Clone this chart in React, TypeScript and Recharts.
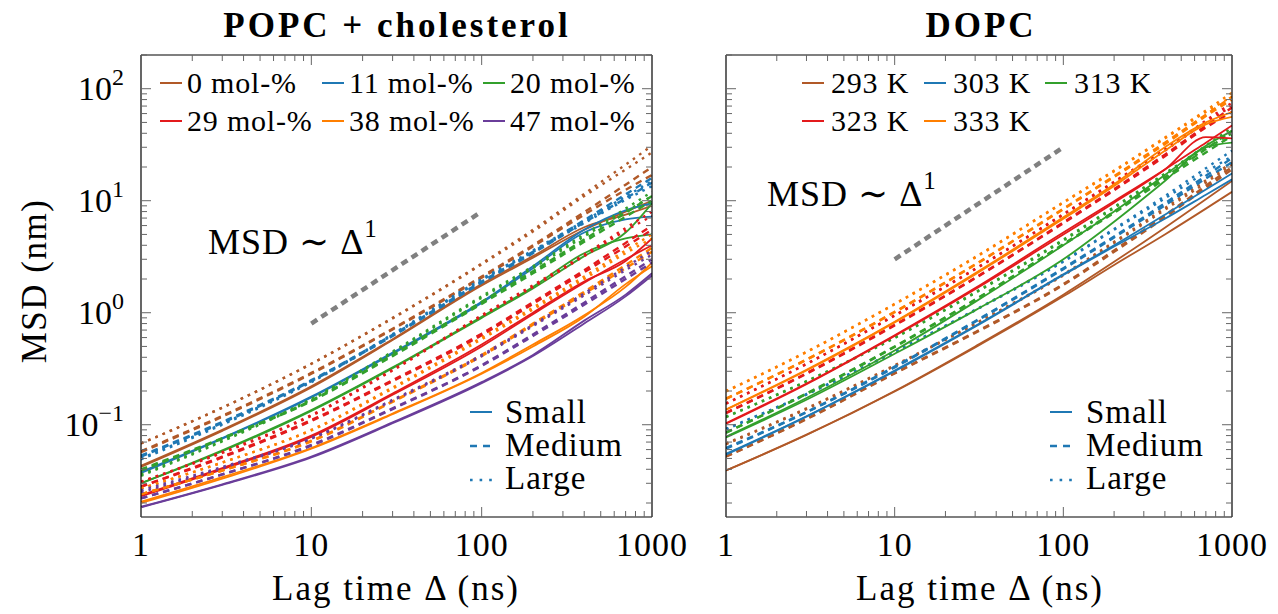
import { LineChart, Line, XAxis, YAxis } from "recharts";

const serif = '"Liberation Serif", "DejaVu Serif", "Times New Roman", Times, "Noto Serif", serif';

// lag times (ns) at which the curves were read
const lagTimes = [1, 3, 10, 30, 100, 200, 400, 700, 1000];

// POPC + cholesterol, MSD (nm), two replicas per system size
const chol0Small = [[0.043, 0.09, 0.22, 0.58, 1.8, 3.2, 5.8, 7.5, 9], [0.042, 0.088, 0.215, 0.57, 1.75, 3.1, 5.5, 8.0, 10]];
const chol0Medium = [[0.058, 0.12, 0.29, 0.72, 2.1, 4.0, 7.9, 13.9, 20], [0.057, 0.118, 0.285, 0.71, 2.05, 3.9, 7.5, 12.5, 17]];
const chol0Large = [[0.068, 0.142, 0.35, 0.9, 2.75, 5.5, 11.5, 21, 31], [0.068, 0.142, 0.35, 0.89, 2.7, 5.3, 11, 19, 27]];
const chol11Small = [[0.038, 0.076, 0.178, 0.44, 1.25, 2.6, 5.5, 8.2, 9.5], [0.037, 0.075, 0.175, 0.43, 1.22, 2.5, 5.2, 6.8, 7.2]];
const chol11Medium = [[0.053, 0.106, 0.25, 0.635, 1.9, 3.5, 6.7, 11.4, 16], [0.052, 0.104, 0.245, 0.62, 1.85, 3.4, 6.4, 10.5, 14.5]];
const chol11Large = [[0.05, 0.102, 0.245, 0.644, 2.0, 3.6, 6.6, 10.9, 15], [0.049, 0.1, 0.24, 0.63, 1.95, 3.5, 6.3, 10.2, 13.5]];
const chol20Small = [[0.03, 0.059, 0.135, 0.325, 0.92, 1.7, 3.4, 4.6, 5.0], [0.03, 0.058, 0.133, 0.32, 0.9, 1.65, 3.2, 5.2, 9.5]];
const chol20Medium = [[0.04, 0.076, 0.165, 0.42, 1.25, 2.35, 4.5, 7.8, 11], [0.039, 0.075, 0.162, 0.41, 1.2, 2.25, 4.3, 7.2, 10]];
const chol20Large = [[0.036, 0.072, 0.17, 0.45, 1.4, 2.6, 5.0, 8.5, 12], [0.035, 0.071, 0.167, 0.44, 1.36, 2.5, 4.8, 8.0, 11]];
const chol29Small = [[0.0235, 0.041, 0.08, 0.19, 0.52, 1.0, 1.9, 2.9, 4.6], [0.023, 0.04, 0.078, 0.185, 0.5, 0.97, 1.85, 3.0, 4.0]];
const chol29Medium = [[0.028, 0.052, 0.11, 0.25, 0.65, 1.24, 2.4, 4.2, 6], [0.028, 0.051, 0.108, 0.245, 0.63, 1.2, 2.3, 3.9, 5.5]];
const chol29Large = [[0.031, 0.057, 0.122, 0.31, 0.95, 1.76, 3.3, 5.7, 8], [0.031, 0.056, 0.12, 0.305, 0.93, 1.7, 3.2, 5.4, 7.3]];
const chol38Small = [[0.0205, 0.034, 0.062, 0.126, 0.29, 0.52, 0.95, 1.7, 2.8], [0.02, 0.033, 0.061, 0.124, 0.285, 0.5, 0.92, 1.8, 2.6]];
const chol38Medium = [[0.024, 0.039, 0.072, 0.162, 0.42, 0.8, 1.54, 2.67, 3.8], [0.024, 0.039, 0.071, 0.16, 0.41, 0.78, 1.48, 2.5, 3.5]];
const chol38Large = [[0.027, 0.046, 0.09, 0.215, 0.6, 1.11, 2.1, 3.6, 5], [0.027, 0.046, 0.089, 0.21, 0.58, 1.07, 2.0, 3.4, 4.6]];
const chol47Small = [[0.0185, 0.0294, 0.052, 0.105, 0.24, 0.42, 0.85, 1.45, 2.25], [0.0183, 0.029, 0.051, 0.103, 0.235, 0.41, 0.8, 1.4, 2.15]];
const chol47Medium = [[0.022, 0.036, 0.066, 0.14, 0.34, 0.64, 1.23, 2.12, 3.0], [0.022, 0.036, 0.065, 0.138, 0.335, 0.62, 1.18, 2.0, 2.8]];
const chol47Large = [[0.026, 0.042, 0.076, 0.167, 0.42, 0.78, 1.49, 2.55, 3.6], [0.025, 0.041, 0.075, 0.164, 0.41, 0.76, 1.43, 2.4, 3.3]];

// DOPC at different temperatures
const dopc293Small = [[0.039, 0.0815, 0.2, 0.5, 1.45, 2.85, 5.75, 10.3, 15], [0.039, 0.081, 0.198, 0.49, 1.4, 2.67, 5.0, 8.5, 12]];
const dopc293Medium = [[0.052, 0.113, 0.29, 0.67, 1.8, 3.6, 7.4, 13.6, 20], [0.052, 0.112, 0.287, 0.66, 1.77, 3.5, 7.1, 13, 19]];
const dopc293Large = [[0.068, 0.14, 0.34, 0.8, 2.2, 4.3, 8.6, 15.2, 22], [0.067, 0.138, 0.335, 0.79, 2.15, 4.2, 8.3, 14.5, 21]];
const dopc303Small = [[0.055, 0.119, 0.305, 0.76, 2.2, 4.0, 7.5, 12.6, 17.5], [0.054, 0.118, 0.3, 0.75, 2.17, 3.9, 6.9, 11.3, 15.5]];
const dopc303Medium = [[0.062, 0.13, 0.33, 0.84, 2.5, 4.8, 9.5, 16.7, 24], [0.061, 0.129, 0.325, 0.83, 2.45, 4.7, 9.1, 15.8, 22]];
const dopc303Large = [[0.092, 0.188, 0.45, 1.06, 2.9, 5.6, 11, 19.5, 28], [0.091, 0.186, 0.445, 1.05, 2.85, 5.5, 10.5, 18, 25]];
const dopc313Small = [[0.078, 0.173, 0.46, 1.25, 4.0, 8.0, 17, 31, 42], [0.077, 0.167, 0.43, 1.05, 3.0, 6.5, 15, 30, 33]];
const dopc313Medium = [[0.085, 0.19, 0.5, 1.31, 4.1, 8.0, 16.2, 29, 42], [0.085, 0.188, 0.495, 1.3, 4.05, 7.8, 15.6, 27, 38]];
const dopc313Large = [[0.118, 0.245, 0.6, 1.52, 4.5, 8.8, 17.5, 31, 45], [0.117, 0.243, 0.595, 1.5, 4.4, 8.6, 17, 29, 40]];
const dopc323Small = [[0.103, 0.233, 0.63, 1.66, 5.2, 9.9, 19, 33, 47], [0.102, 0.23, 0.62, 1.62, 5.0, 9.6, 19, 37, 36]];
const dopc323Medium = [[0.128, 0.288, 0.78, 2.05, 6.4, 12.7, 25.8, 46.7, 68], [0.127, 0.285, 0.77, 2.03, 6.3, 12.4, 25, 45, 62]];
const dopc323Large = [[0.155, 0.35, 0.95, 2.47, 7.6, 14.8, 29, 52, 75], [0.154, 0.348, 0.94, 2.44, 7.5, 14.5, 28, 50, 70]];
const dopc333Small = [[0.137, 0.31, 0.83, 2.25, 7.1, 14, 30, 50, 62], [0.136, 0.305, 0.82, 2.2, 6.9, 13.5, 28, 48, 56]];
const dopc333Medium = [[0.171, 0.382, 1.02, 2.7, 8.5, 16.6, 33, 58.7, 85], [0.17, 0.38, 1.01, 2.68, 8.4, 16.3, 32, 57, 80]];
const dopc333Large = [[0.2, 0.448, 1.2, 3.14, 9.7, 18.6, 36.6, 64, 92], [0.198, 0.445, 1.19, 3.1, 9.6, 18.3, 36, 62, 85]];

// MSD ~ Delta^1 guide lines: [lag time, msd]
const guideChol = [[10, 0.8], [100, 8]];
const guideDopc = [[10, 3], [100, 30]];

const cholLabels = ["0 mol-%", "11 mol-%", "20 mol-%", "29 mol-%", "38 mol-%", "47 mol-%"];
const dopcLabels = ["293 K", "303 K", "313 K", "323 K", "333 K"];
const sizeLabels = ["Small", "Medium", "Large"];

const cholGroups = [
  [chol0Small, chol0Medium, chol0Large],
  [chol11Small, chol11Medium, chol11Large],
  [chol20Small, chol20Medium, chol20Large],
  [chol29Small, chol29Medium, chol29Large],
  [chol38Small, chol38Medium, chol38Large],
  [chol47Small, chol47Medium, chol47Large],
];
const dopcGroups = [
  [dopc293Small, dopc293Medium, dopc293Large],
  [dopc303Small, dopc303Medium, dopc303Large],
  [dopc313Small, dopc313Medium, dopc313Large],
  [dopc323Small, dopc323Medium, dopc323Large],
  [dopc333Small, dopc333Medium, dopc333Large],
];

const xTicks = [1, 2, 3, 4, 5, 6, 7, 8, 9, 10, 20, 30, 40, 50, 60, 70, 80, 90, 100, 200, 300, 400, 500, 600, 700, 800, 900, 1000];
const xMajor = [1, 10, 100, 1000];
const yTicks = [0.02, 0.03, 0.04, 0.05, 0.06, 0.07, 0.08, 0.09, 0.1, 0.2, 0.3, 0.4, 0.5, 0.6, 0.7, 0.8, 0.9, 1, 2, 3, 4, 5, 6, 7, 8, 9, 10, 20, 30, 40, 50, 60, 70, 80, 90, 100, 200];
const yMajor = [0.1, 1, 10, 100];
const yExponents = ["−1", "0", "1", "2"];

const palette = ["#b15928", "#1f78b4", "#33a02c", "#e31a1c", "#ff7f00", "#6a3d9a"];
const sizeDash = [undefined, "6.5 5", "2.6 5.2"];
const legendDash = [undefined, "7 6", "2.6 7"];
const tickColor = "#666";

const toPoints = (vals: number[]) => lagTimes.map((t, i) => ({ t, msd: vals[i] }));
const guidePoints = (g: number[][]) => g.map(([t, msd]) => ({ t, msd }));

const txt = { fontFamily: serif, fill: "#000" };

const bottomTick = (p: any) => {
  const major = xMajor.includes(p.payload.value);
  return (
    <g>
      <line x1={p.x} y1={p.y} x2={p.x} y2={p.y - (major ? 10 : 6)} stroke={tickColor} />
      {major && (
        <text x={p.x} y={p.y + 39} textAnchor="middle" fontSize={34} letterSpacing={1} style={txt}>
          {p.payload.value}
        </text>
      )}
    </g>
  );
};

const topTick = (p: any) => {
  const major = xMajor.includes(p.payload.value);
  return <line x1={p.x} y1={p.y} x2={p.x} y2={p.y + (major ? 10 : 6)} stroke={tickColor} />;
};

const leftTick = (withLabels: boolean) => (p: any) => {
  const idx = yMajor.indexOf(p.payload.value);
  const major = idx >= 0;
  return (
    <g>
      <line x1={p.x} y1={p.y} x2={p.x + (major ? 10 : 6)} y2={p.y} stroke={tickColor} />
      {withLabels && major && (
        <text x={p.x - 17} y={p.y + 11.5} textAnchor="end" fontSize={34} style={txt}>
          <tspan>10</tspan>
          <tspan dy={-15} fontSize={24}>{yExponents[idx]}</tspan>
        </text>
      )}
    </g>
  );
};

const rightTick = (p: any) => {
  const major = yMajor.includes(p.payload.value);
  return <line x1={p.x} y1={p.y} x2={p.x - (major ? 10 : 6)} y2={p.y} stroke={tickColor} />;
};

type PanelProps = {
  groups: number[][][][];
  guide: number[][];
  left: number;
  width: number;
  plotLeft: number;
  rightPad: number;
  showYLabels: boolean;
};

function Panel({ groups, guide, left, width, plotLeft, rightPad, showYLabels }: PanelProps) {
  const lines: any[] = [];
  groups.forEach((sizes, gi) => {
    sizes.forEach((replicas, si) => {
      replicas.forEach((vals, ri) => {
        lines.push(
          <Line
            key={`${gi}-${si}-${ri}`}
            xAxisId="b"
            yAxisId="l"
            data={toPoints(vals)}
            dataKey="msd"
            type="monotone"
            stroke={palette[gi]}
            strokeWidth={si === 0 ? 1.8 : 2.4}
            strokeDasharray={sizeDash[si]}
            dot={false}
            activeDot={false}
            isAnimationActive={false}
          />
        );
      });
    });
  });
  const axisLine = { stroke: "#000", strokeWidth: 1.2 };
  return (
    <div style={{ position: "absolute", left, top: 0 }}>
      <LineChart width={width} height={614} margin={{ top: 54, right: rightPad, bottom: 0, left: 0 }}>
        <XAxis xAxisId="b" orientation="bottom" dataKey="t" type="number" scale="log" domain={[1, 1000]}
          allowDataOverflow ticks={xTicks} interval={0} height={97} tickSize={0} tickMargin={0}
          tickLine={false} axisLine={axisLine} tick={bottomTick} />
        <XAxis xAxisId="t" orientation="top" dataKey="t" type="number" scale="log" domain={[1, 1000]}
          allowDataOverflow ticks={xTicks} interval={0} height={1} tickSize={0} tickMargin={0}
          tickLine={false} axisLine={axisLine} tick={topTick} />
        <YAxis yAxisId="l" orientation="left" type="number" scale="log" domain={[0.015, 200]}
          allowDataOverflow ticks={yTicks} interval={0} width={plotLeft} tickSize={0} tickMargin={0}
          tickLine={false} axisLine={axisLine} tick={leftTick(showYLabels)} />
        <YAxis yAxisId="r" orientation="right" type="number" scale="log" domain={[0.015, 200]}
          allowDataOverflow ticks={yTicks} interval={0} width={1} tickSize={0} tickMargin={0}
          tickLine={false} axisLine={axisLine} tick={rightTick} />
        {lines}
        <Line xAxisId="b" yAxisId="l" data={guidePoints(guide)} dataKey="msd" type="linear"
          stroke="#808080" strokeWidth={4.5} strokeDasharray="7 5" dot={false} activeDot={false}
          isAnimationActive={false} />
      </LineChart>
    </div>
  );
}

function Sample({ x, y, color, dash }: { x: number; y: number; color: string; dash?: string }) {
  return <line x1={x} y1={y} x2={x + 22} y2={y} stroke={color} strokeWidth={dash ? 2.4 : 2} strokeDasharray={dash} />;
}

export default function App() {
  const cholCols = [160, 322, 483];
  const cholRows = [83, 121];
  const dopcCols = [802, 924, 1045];
  return (
    <div style={{ position: "absolute", left: 0, top: 0, width: 1278, height: 614, background: "#fff", fontFamily: serif }}>
      <Panel groups={cholGroups} guide={guideChol} left={0} width={700} plotLeft={141} rightPad={47} showYLabels />
      <Panel groups={dopcGroups} guide={guideDopc} left={680} width={598} plotLeft={46} rightPad={45} showYLabels={false} />
      <svg width={1278} height={614} style={{ position: "absolute", left: 0, top: 0, pointerEvents: "none" }}>
        <text x={397} y={37} textAnchor="middle" fontSize={35} fontWeight="bold" letterSpacing={3} style={txt}>
          POPC + cholesterol
        </text>
        <text x={981} y={37} textAnchor="middle" fontSize={35} fontWeight="bold" letterSpacing={3} style={txt}>
          DOPC
        </text>
        <text x={396} y={600} textAnchor="middle" fontSize={35} letterSpacing={2} style={txt}>Lag time Δ (ns)</text>
        <text x={980} y={600} textAnchor="middle" fontSize={35} letterSpacing={2} style={txt}>Lag time Δ (ns)</text>
        <text transform="rotate(-90)" x={-281} y={46} textAnchor="middle" fontSize={35} letterSpacing={1.5} style={txt}>MSD (nm)</text>

        <text x={208} y={254} fontSize={36} letterSpacing={1} style={txt}>
          MSD ∼ Δ<tspan dy={-17} fontSize={25}>1</tspan>
        </text>
        <text x={767} y={206} fontSize={36} letterSpacing={1} style={txt}>
          MSD ∼ Δ<tspan dy={-17} fontSize={25}>1</tspan>
        </text>

        {cholLabels.map((lab, i) => {
          const x = cholCols[i % 3];
          const y = cholRows[Math.floor(i / 3)];
          return (
            <g key={lab}>
              <Sample x={x} y={y} color={palette[i]} />
              <text x={x + 27} y={y + 10} fontSize={30} letterSpacing={0.8} style={txt}>{lab}</text>
            </g>
          );
        })}
        {dopcLabels.map((lab, i) => {
          const x = dopcCols[i % 3];
          const y = cholRows[Math.floor(i / 3)];
          return (
            <g key={lab}>
              <Sample x={x} y={y} color={palette[i]} />
              <text x={x + 29} y={y + 10} fontSize={30} letterSpacing={0.8} style={txt}>{lab}</text>
            </g>
          );
        })}
        {sizeLabels.map((lab, i) => (
          <g key={lab}>
            <Sample x={470} y={412 + i * 34} color={palette[1]} dash={legendDash[i]} />
            <text x={505} y={423 + i * 33} fontSize={33} letterSpacing={1} style={txt}>{lab}</text>
            <Sample x={1050} y={412 + i * 34} color={palette[1]} dash={legendDash[i]} />
            <text x={1086} y={423 + i * 33} fontSize={33} letterSpacing={1} style={txt}>{lab}</text>
          </g>
        ))}
      </svg>
    </div>
  );
}
